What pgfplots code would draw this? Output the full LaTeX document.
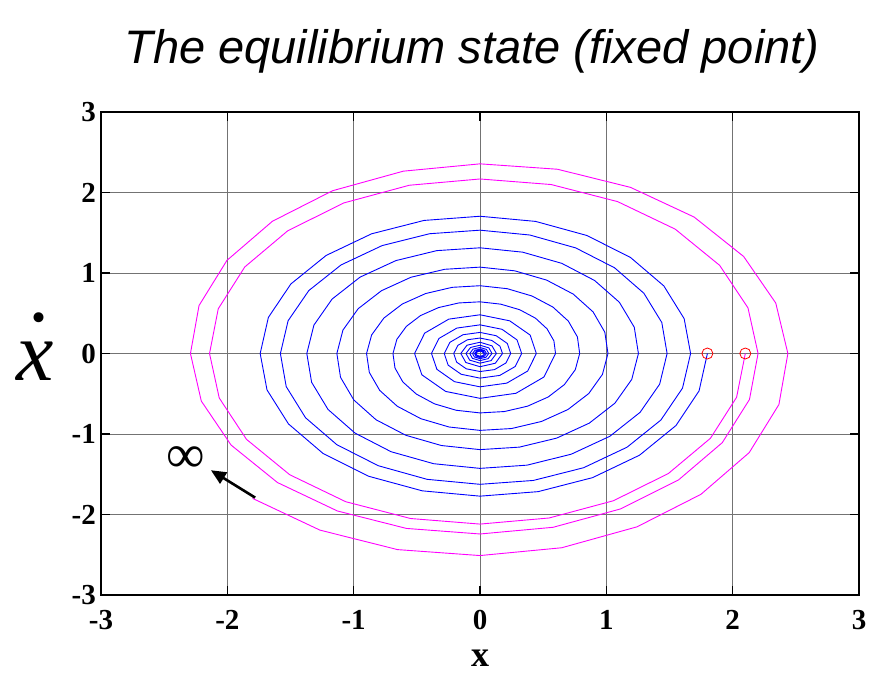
\documentclass[border=0pt]{standalone}
\usepackage{fontspec}
\setmainfont{Liberation Serif}
\newfontfamily\titlefont{Liberation Sans}
\usepackage{pgfplots}
\pgfplotsset{compat=1.18}
\usetikzlibrary{arrows.meta}

\definecolor{trajblue}{RGB}{0,0,255}
\definecolor{trajmag}{RGB}{255,0,255}

\begin{document}
\begin{tikzpicture}
\useasboundingbox (0,0) rectangle (874pt,678pt);
\begin{axis}[
  at={(101pt,83pt)}, anchor=south west,
  scale only axis, width=758pt, height=483pt,
  xmin=-3, xmax=3, ymin=-3, ymax=3,
  xtick={-3,-2,-1,0,1,2,3}, ytick={-3,-2,-1,0,1,2,3},
  xticklabels={-3,-2,-1,0,1,2,3}, yticklabels={-3,-2,-1,0,1,2,3},
  tick pos=both, tick align=inside, major tick length=9pt,
  tick style={black, line width=1.6pt},
  grid=major, major grid style={black!55, line width=0.8pt},
  axis line style={black, line width=2.4pt},
  ticklabel style={font=\fontsize{29}{29}\selectfont\bfseries},
  xticklabel style={anchor=base, yshift=-34pt},
  yticklabel style={anchor=east, inner xsep=5pt},
  xlabel={x},
  xlabel style={font=\fontsize{36}{36}\selectfont\bfseries,
                at={(axis description cs:0.5,-0.149)}, anchor=base},
  title={The equilibrium state (fixed point)},
  title style={font=\titlefont\itshape\fontsize{47}{47}\selectfont,
               at={(axis description cs:0.5,1)}, anchor=base,
               yshift=43pt, xshift=-8pt},
  clip=true,
]
% trajectory starting inside the unstable cycle: spirals into the origin
\addplot[trajblue, line width=0.9pt] coordinates {
(1.800,0) (1.734,-0.465) (1.551,-0.895) (1.263,-1.263) (0.891,-1.542) (0.460,-1.716)
(0,-1.772) (-0.457,-1.706) (-0.881,-1.525) (-1.242,-1.242) (-1.516,-0.875) (-1.686,-0.452)
(-1.740,0) (-1.675,0.449) (-1.497,0.864) (-1.218,1.218) (-0.858,1.487) (-0.443,1.653)
(0,1.705) (0.440,1.641) (0.846,1.466) (1.192,1.192) (1.455,0.840) (1.616,0.433)
(1.667,0) (1.603,-0.430) (1.432,-0.826) (1.164,-1.164) (0.820,-1.419) (0.422,-1.577)
(0,-1.625) (-0.419,-1.563) (-0.805,-1.394) (-1.133,-1.133) (-1.381,-0.798) (-1.534,-0.411)
(-1.580,0) (-1.519,0.407) (-1.355,0.782) (-1.100,1.100) (-0.774,1.341) (-0.399,1.488)
(0,1.532) (0.394,1.472) (0.757,1.312) (1.065,1.065) (1.297,0.749) (1.439,0.385)
(1.481,0) (1.422,-0.381) (1.267,-0.731) (1.028,-1.028) (0.722,-1.251) (0.372,-1.387)
(0,-1.427) (-0.367,-1.369) (-0.704,-1.220) (-0.989,-0.989) (-1.203,-0.695) (-1.333,-0.357)
(-1.371,0) (-1.315,0.352) (-1.171,0.676) (-0.949,0.949) (-0.666,1.154) (-0.342,1.278)
(0,1.313) (0.337,1.259) (0.647,1.120) (0.907,0.907) (1.103,0.637) (1.221,0.327)
(1.254,0) (1.201,-0.322) (1.068,-0.617) (0.865,-0.865) (0.607,-1.051) (0.312,-1.163)
(0,-1.194) (-0.306,-1.143) (-0.587,-1.016) (-0.823,-0.823) (-0.999,-0.577) (-1.104,-0.296)
(-1.133,0) (-1.085,0.291) (-0.964,0.557) (-0.780,0.780) (-0.547,0.947) (-0.280,1.046)
(0,1.073) (0.275,1.027) (0.527,0.912) (0.738,0.738) (0.895,0.517) (0.988,0.265)
(1.013,0) (0.969,-0.260) (0.861,-0.497) (0.696,-0.696) (0.487,-0.844) (0.250,-0.932)
(0,-0.955) (-0.245,-0.913) (-0.468,-0.810) (-0.655,-0.655) (-0.794,-0.458) (-0.876,-0.235)
(-0.898,0) (-0.858,0.230) (-0.761,0.440) (-0.615,0.615) (-0.430,0.745) (-0.220,0.822)
(0,0.842) (0.216,0.805) (0.412,0.714) (0.577,0.577) (0.699,0.403) (0.771,0.206)
(0.789,0) (0.754,-0.202) (0.668,-0.386) (0.540,-0.540) (0.377,-0.654) (0.193,-0.721)
(0,-0.738) (-0.189,-0.705) (-0.361,-0.625) (-0.504,-0.504) (-0.611,-0.353) (-0.673,-0.180)
(-0.689,0) (-0.658,0.176) (-0.583,0.337) (-0.471,0.471) (-0.329,0.570) (-0.168,0.628)
(0,0.642) (0.164,0.613) (0.314,0.544) (0.439,0.439) (0.531,0.306) (0.585,0.157)
(0.598,0) (0.506,-0.292) (0.285,-0.494)
(0,-0.557) (-0.272,-0.471) (-0.460,-0.265)
(-0.518,0) (-0.438,0.253) (-0.247,0.427)
(0,0.481) (0.235,0.406) (0.397,0.229)
(0.446,0) (0.377,-0.218) (0.212,-0.368)
(0,-0.414) (-0.202,-0.350) (-0.341,-0.197)
(-0.384,0) (-0.325,0.187) (-0.183,0.316)
(0,0.356) (0.174,0.301) (0.293,0.169)
(0.330,0) (0.279,-0.161) (0.157,-0.272)
(0,-0.306) (-0.149,-0.258) (-0.252,-0.145)
(-0.283,0) (-0.239,0.138) (-0.135,0.233)
(0,0.262) (0.128,0.221) (0.216,0.125)
(0.243,0) (0.205,-0.118) (0.115,-0.200)
(0,-0.224) (-0.109,-0.190) (-0.185,-0.107)
(-0.208,0) (-0.175,0.101) (-0.099,0.171)
(0,0.192) (0.094,0.162) (0.158,0.091)
(0.178,0) (0.121,-0.121) (0,-0.164) (-0.112,-0.112)
(-0.152,0) (-0.103,0.103) (0,0.140) (0.095,0.095)
(0.130,0) (0.088,-0.088) (0,-0.120) (-0.082,-0.082)
(-0.111,0) (-0.075,0.075) (0,0.103) (0.070,0.070)
(0.095,0) (0.064,-0.064) (0,-0.088) (-0.060,-0.060)
(-0.081,0) (-0.055,0.055) (0,0.075) (0.051,0.051)
(0.069,0) (0.047,-0.047) (0,-0.064) (-0.044,-0.044)
(-0.059,0) (-0.040,0.040) (0,0.055) (0.037,0.037)
(0.051,0) (0.034,-0.034) (0,-0.047) (-0.032,-0.032)
(-0.043,0) (-0.029,0.029) (0,0.040) (0.027,0.027)
(0.037,0) (0.025,-0.025) (0,-0.034) (-0.023,-0.023)
(-0.032,0) (-0.021,0.021) (0,0.029) (0.020,0.020)
(0.027,0)
};
% trajectory starting outside the unstable cycle: grows without bound
\addplot[trajmag, line width=0.9pt] coordinates {
(2.100,0) (2.031,-0.544) (1.824,-1.053) (1.491,-1.491) (1.056,-1.829) (0.548,-2.043)
(0,-2.119) (-0.549,-2.050) (-1.063,-1.841) (-1.506,-1.506) (-1.848,-1.067) (-2.064,-0.553)
(-2.141,0) (-2.072,0.555) (-1.862,1.075) (-1.523,1.523) (-1.079,1.870) (-0.560,2.090)
(0,2.168) (0.563,2.099) (1.089,1.887) (1.545,1.545) (1.897,1.095) (2.121,0.568)
(2.201,0) (2.133,-0.571) (1.918,-1.107) (1.571,-1.571) (1.114,-1.930) (0.578,-2.159)
(0,-2.242) (-0.582,-2.173) (-1.129,-1.956) (-1.603,-1.603) (-1.970,-1.138) (-2.206,-0.591)
(-2.292,0) (-2.224,0.596) (-2.003,1.157) (-1.643,1.643) (-1.167,2.022) (-0.607,2.265)
(0,2.356) (0.613,2.289) (1.191,2.064) (1.695,1.695) (2.087,1.205) (2.341,0.627)
(2.437,0) (2.366,-0.634) (2.131,-1.231) (1.749,-1.749) (1.243,-2.153) (0.647,-2.413)
(0,-2.510) (-0.653,-2.436) (-1.267,-2.194) (-1.800,-1.800)
};
% initial states
\addplot[only marks, mark=o, mark size=5.5pt, red, line width=0.8pt]
  coordinates {(1.8,0) (2.1,0)};
% annotation: escape to infinity
\draw[black, line width=2.6pt, -{Triangle[length=15pt,width=13pt]}]
  (axis cs:-1.78,-1.79) -- (axis cs:-2.13,-1.45);
\node[font=\fontsize{54}{54}\selectfont, inner sep=0pt]
  at (axis cs:-2.33,-1.32) {∞};
\end{axis}
% vertical axis label: velocity, x with an over-dot set high above it
\node[font=\fontsize{84}{84}\selectfont\itshape, anchor=base, inner sep=0pt]
  at (35pt,298pt) {\rlap{\hspace{0.144em}\raisebox{0.70em}{\upshape .}}x};
\end{tikzpicture}
\end{document}
